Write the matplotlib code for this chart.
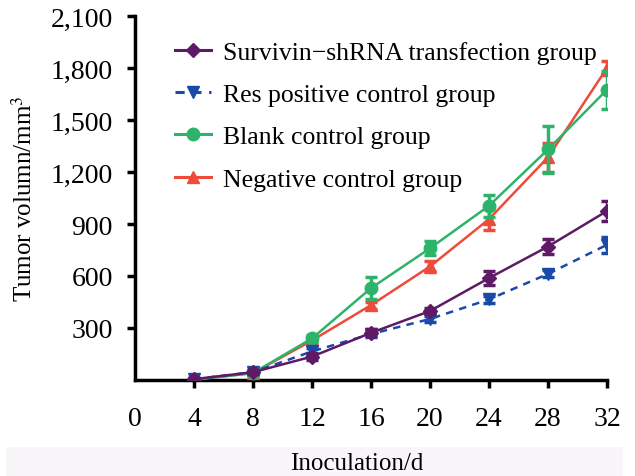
import matplotlib
matplotlib.use("Agg")
import matplotlib.pyplot as plt
from matplotlib.patches import Rectangle
from matplotlib.lines import Line2D

days = [4, 8, 12, 16, 20, 24, 28, 32]
survivin = [5, 45, 135, 272, 398, 588, 770, 975]
survivin_err = [5, 10, 20, 20, 20, 40, 45, 55]
res = [5, 45, 165, 265, 352, 465, 612, 780]
res_err = [5, 10, 20, 15, 20, 20, 20, 45]
blank = [2, 40, 240, 530, 760, 1005, 1330, 1675]
blank_err = [3, 10, 20, 65, 40, 65, 135, 110]
negative = [2, 40, 228, 432, 655, 928, 1285, 1800]
negative_err = [3, 10, 15, 20, 30, 60, 85, 40]

xticks = [0, 4, 8, 12, 16, 20, 24, 28, 32]
yticks = [300, 600, 900, 1200, 1500, 1800, 2100]
ytick_labels = ["300", "600", "900", "1,200", "1,500", "1,800", "2,100"]

plt.rcParams['font.family'] = ['Liberation Serif', 'DejaVu Serif']
plt.rcParams['mathtext.fontset'] = 'stix'

fig = plt.figure(figsize=(6.35, 4.77), dpi=100)
fig.patches.append(Rectangle((6/635, 0), 617/635, 29/477, transform=fig.transFigure,
                             facecolor='#f8f6f8', edgecolor='none', zorder=-10))
ax = fig.add_axes([135/635, 1 - 381/477, 472/635, 364/477])

c_pur = '#5f1a66'
c_blu = '#1a4aa8'
c_grn = '#2eb36b'
c_red = '#ee4b3b'

styles = [
    (negative, negative_err, c_red, '^', 8.5, '-', 'Negative control group', 3),
    (blank, blank_err, c_grn, 'o', 9, '-', 'Blank control group', 4),
    (res, res_err, c_blu, 'v', 8.5, (0, (3, 2.5)), 'Res positive control group', 5),
    (survivin, survivin_err, c_pur, 'D', 7, '-', 'Survivin\u2212shRNA transfection group', 6),
]
for vals, errs, col, mk, ms, ls, lab, z in styles:
    ax.errorbar(days, vals, yerr=errs, color=col, marker=mk, ms=ms, lw=1.8, ls=ls,
                capsize=4, capthick=2.5, elinewidth=2.5, zorder=z)

ax.set_xlim(0, 32)
ax.set_ylim(0, 2100)
ax.set_xticks(xticks)
ax.set_xticklabels([str(t) for t in xticks])
ax.set_yticks(yticks)
ax.set_yticklabels(ytick_labels)
ax.xaxis.get_major_ticks()[0].tick1line.set_visible(False)

for s in ['top', 'right']:
    ax.spines[s].set_visible(False)
for s in ['left', 'bottom']:
    ax.spines[s].set_linewidth(2.5)
ax.tick_params(axis='both', direction='out', length=6, width=2.5, labelsize=20, colors='black')
ax.tick_params(axis='x', pad=13)
ax.tick_params(axis='y', pad=10)

ax.set_xlabel('Inoculation/d', fontsize=18)
ax.xaxis.set_label_coords(0.47, -0.197)
ax.set_ylabel('Tumor volumn/mm$^3$', fontsize=18, labelpad=10)

handles = []
labels = []
for vals, errs, col, mk, ms, ls, lab, z in styles[::-1]:
    handles.append(Line2D([], [], color=col, marker=mk, ms=ms, lw=2.2, ls=ls))
    labels.append(lab)
ax.legend(handles, labels, loc='upper left', bbox_to_anchor=(0.035, 0.995), frameon=False,
          fontsize=18.5, handlelength=1.4, handletextpad=0.5, labelspacing=0.75)

fig.savefig('out.png', dpi=100)
